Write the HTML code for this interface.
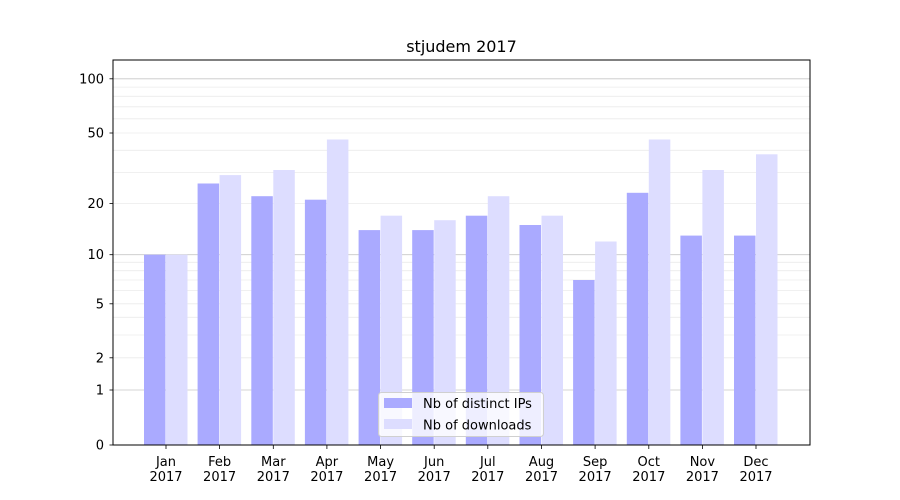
<!DOCTYPE html>
<html><head><style>body{margin:0;background:#fff}svg{display:block;font-family:"DejaVu Sans","Liberation Sans",sans-serif}</style></head><body>
<svg width="900" height="500" xmlns="http://www.w3.org/2000/svg">
<rect width="900" height="500" fill="#fff"/>
<g stroke="#ebebeb" stroke-width="0.8">
<line x1="113" x2="810" y1="335" y2="335"/><line x1="113" x2="810" y1="317.3" y2="317.3"/><line x1="113" x2="810" y1="303.8" y2="303.8"/><line x1="113" x2="810" y1="290.6" y2="290.6"/><line x1="113" x2="810" y1="280" y2="280"/><line x1="113" x2="810" y1="270.7" y2="270.7"/><line x1="113" x2="810" y1="262.3" y2="262.3"/><line x1="113" x2="810" y1="357.8" y2="357.8"/>
<line x1="113" x2="810" y1="203.4" y2="203.4"/><line x1="113" x2="810" y1="172.5" y2="172.5"/><line x1="113" x2="810" y1="150.3" y2="150.3"/><line x1="113" x2="810" y1="133" y2="133"/><line x1="113" x2="810" y1="118.8" y2="118.8"/><line x1="113" x2="810" y1="106.8" y2="106.8"/><line x1="113" x2="810" y1="96.3" y2="96.3"/><line x1="113" x2="810" y1="87.1" y2="87.1"/>
</g>
<g stroke="#c8c8c8" stroke-width="0.8">
<line x1="113" x2="810" y1="390" y2="390"/><line x1="113" x2="810" y1="254.7" y2="254.7"/><line x1="113" x2="810" y1="78.8" y2="78.8"/>
</g>
<g fill="#aaaaff">
<rect x="144" y="254.7" width="21.5" height="190.3"/>
<rect x="197.6" y="183.5" width="21.5" height="261.5"/>
<rect x="251.3" y="196.2" width="21.5" height="248.8"/>
<rect x="304.9" y="199.7" width="21.5" height="245.3"/>
<rect x="358.6" y="230.1" width="21.5" height="214.9"/>
<rect x="412.2" y="230.1" width="21.5" height="214.9"/>
<rect x="465.8" y="215.7" width="21.5" height="229.3"/>
<rect x="519.5" y="225" width="21.5" height="220"/>
<rect x="573.1" y="280" width="21.5" height="165"/>
<rect x="626.8" y="192.8" width="21.5" height="252.2"/>
<rect x="680.4" y="235.6" width="21.5" height="209.4"/>
<rect x="734" y="235.6" width="21.5" height="209.4"/>
</g>
<g fill="#ddddff">
<rect x="166" y="254.7" width="21.5" height="190.3"/>
<rect x="219.6" y="175.1" width="21.5" height="269.9"/>
<rect x="273.3" y="170" width="21.5" height="275"/>
<rect x="326.9" y="139.5" width="21.5" height="305.5"/>
<rect x="380.6" y="215.7" width="21.5" height="229.3"/>
<rect x="434.2" y="220.2" width="21.5" height="224.8"/>
<rect x="487.8" y="196.2" width="21.5" height="248.8"/>
<rect x="541.5" y="215.7" width="21.5" height="229.3"/>
<rect x="595.1" y="241.5" width="21.5" height="203.5"/>
<rect x="648.8" y="139.5" width="21.5" height="305.5"/>
<rect x="702.4" y="170" width="21.5" height="275"/>
<rect x="756" y="154.3" width="21.5" height="290.7"/>
</g>
<rect x="113" y="60" width="697" height="385" fill="none" stroke="#000" stroke-width="1"/>
<g stroke="#000" stroke-width="0.8">
<line x1="109.5" x2="113" y1="445" y2="445"/><line x1="109.5" x2="113" y1="390" y2="390"/><line x1="109.5" x2="113" y1="357.8" y2="357.8"/><line x1="109.5" x2="113" y1="303.8" y2="303.8"/><line x1="109.5" x2="113" y1="254.7" y2="254.7"/><line x1="109.5" x2="113" y1="203.4" y2="203.4"/><line x1="109.5" x2="113" y1="133" y2="133"/><line x1="109.5" x2="113" y1="78.8" y2="78.8"/>
<line x1="166" x2="166" y1="445" y2="449"/><line x1="219.6" x2="219.6" y1="445" y2="449"/><line x1="273.3" x2="273.3" y1="445" y2="449"/><line x1="326.9" x2="326.9" y1="445" y2="449"/><line x1="380.6" x2="380.6" y1="445" y2="449"/><line x1="434.2" x2="434.2" y1="445" y2="449"/><line x1="487.8" x2="487.8" y1="445" y2="449"/><line x1="541.5" x2="541.5" y1="445" y2="449"/><line x1="595.1" x2="595.1" y1="445" y2="449"/><line x1="648.8" x2="648.8" y1="445" y2="449"/><line x1="702.4" x2="702.4" y1="445" y2="449"/><line x1="756" x2="756" y1="445" y2="449"/>
</g>
<g font-size="13" text-anchor="end" fill="#000">
<text x="104" y="449.5">0</text><text x="104" y="394.5">1</text><text x="104" y="362.5">2</text><text x="104" y="308.5">5</text><text x="104" y="259">10</text><text x="104" y="208">20</text><text x="104" y="137.5">50</text><text x="104" y="83.5">100</text>
</g>
<g font-size="13" text-anchor="middle" fill="#000">
<text x="166" y="466">Jan</text><text x="166" y="481">2017</text>
<text x="219.6" y="466">Feb</text><text x="219.6" y="481">2017</text>
<text x="273.3" y="466">Mar</text><text x="273.3" y="481">2017</text>
<text x="326.9" y="466">Apr</text><text x="326.9" y="481">2017</text>
<text x="380.6" y="466">May</text><text x="380.6" y="481">2017</text>
<text x="434.2" y="466">Jun</text><text x="434.2" y="481">2017</text>
<text x="487.8" y="466">Jul</text><text x="487.8" y="481">2017</text>
<text x="541.5" y="466">Aug</text><text x="541.5" y="481">2017</text>
<text x="595.1" y="466">Sep</text><text x="595.1" y="481">2017</text>
<text x="648.8" y="466">Oct</text><text x="648.8" y="481">2017</text>
<text x="702.4" y="466">Nov</text><text x="702.4" y="481">2017</text>
<text x="756" y="466">Dec</text><text x="756" y="481">2017</text>
<text x="461.5" y="52" font-size="16">stjudem 2017</text>
</g>
<rect x="378.5" y="392.5" width="165" height="44" rx="3" fill="#fff" fill-opacity="0.8" stroke="#d0d0d0"/>
<rect x="384" y="398" width="28" height="10" fill="#aaaaff"/>
<rect x="384" y="419" width="28" height="10" fill="#ddddff"/>
<g font-size="13" fill="#000"><text x="423" y="408">Nb of distinct IPs</text><text x="423" y="429.5">Nb of downloads</text></g>
</svg>
</body></html>
